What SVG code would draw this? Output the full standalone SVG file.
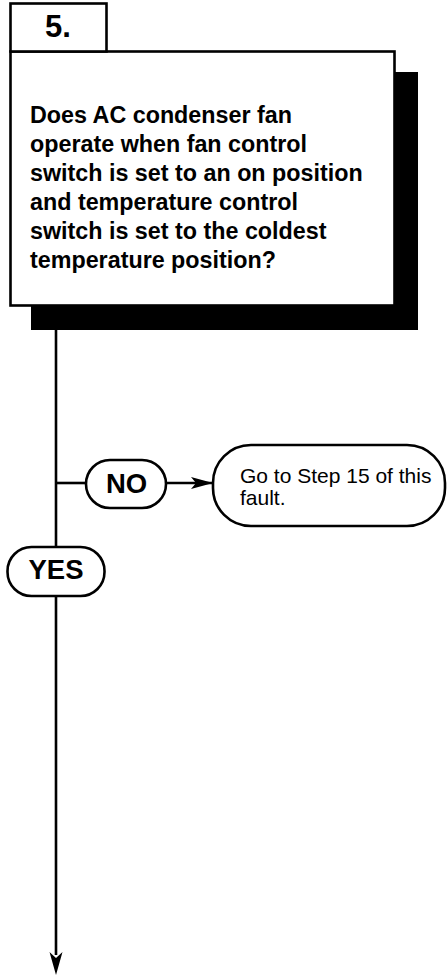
<svg xmlns="http://www.w3.org/2000/svg" width="448" height="976" viewBox="0 0 448 976">
<style>
.ln{stroke:#000;stroke-width:2.6;fill:none}
.bx{fill:#fff;stroke:#000;stroke-width:2.6}
.q{font-family:"Liberation Sans",Arial,sans-serif;font-weight:bold;font-size:23.3px;fill:#000}
.lb{font-family:"Liberation Sans",Arial,sans-serif;font-weight:bold;font-size:27.5px;fill:#000;text-anchor:middle}
.t{font-family:"Liberation Sans",Arial,sans-serif;font-size:21px;fill:#000}
</style>
<defs>
<marker id="ah" markerWidth="22" markerHeight="12" refX="21" refY="6" orient="auto" markerUnits="userSpaceOnUse">
<path d="M0,0 L22,6 L0,12 L5,6 Z" fill="#000"/>
</marker>
</defs>
<g id="connectors">
<line class="ln" x1="56" y1="330" x2="56" y2="547"/>
<line class="ln" x1="56" y1="483" x2="86" y2="483"/>
<line class="ln" x1="166" y1="483" x2="212" y2="483" marker-end="url(#ah)"/>
<line class="ln" x1="56" y1="596" x2="56" y2="955"/>
<path d="M49.5,952 L56,975 L62.5,952 L56,958 Z" fill="#000"/>
</g>
<g id="step5">
<rect x="31" y="72" width="387" height="258" fill="#000"/>
<rect class="bx" x="10.5" y="51.5" width="384" height="254"/>
<rect class="bx" x="10.5" y="3.5" width="96" height="48"/>
<text class="lb" x="58" y="37" style="font-size:31px">5.</text>
<text class="q" x="30" y="123">Does AC condenser fan</text>
<text class="q" x="30" y="152">operate when fan control</text>
<text class="q" x="30" y="181">switch is set to an on position</text>
<text class="q" x="30" y="210">and temperature control</text>
<text class="q" x="30" y="239">switch is set to the coldest</text>
<text class="q" x="30" y="268">temperature position?</text>
</g>
<g id="no">
<rect class="bx" x="86" y="460" width="80" height="48" rx="24"/>
<text class="lb" x="126.5" y="493">NO</text>
</g>
<g id="goto">
<rect class="bx" x="213" y="445" width="232" height="81" rx="38"/>
<text class="t" x="240" y="483">Go to Step 15 of this</text>
<text class="t" x="240" y="505">fault.</text>
</g>
<g id="yes">
<rect class="bx" x="7.5" y="547" width="97" height="49" rx="24"/>
<text class="lb" x="56" y="579">YES</text>
</g>
</svg>
